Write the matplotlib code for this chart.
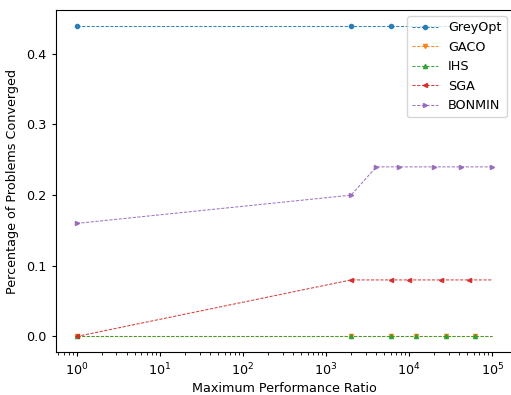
import matplotlib
matplotlib.use("Agg")
import matplotlib.pyplot as plt

names = ["GreyOpt", "GACO", "IHS", "SGA", "BONMIN"]
markers = ["o", "v", "^", "<", ">"]
colors = ["#1f77b4", "#ff7f0e", "#2ca02c", "#d62728", "#9467bd"]

x_grey = [1, 2000, 6100, 100000]
y_grey = [0.44, 0.44, 0.44, 0.44]

x_zero = [1, 2000, 6100, 12200, 28000, 62500, 100000]
y_gaco = [0.0, 0.0, 0.0, 0.0, 0.0, 0.0, 0.0]
y_ihs = [0.0, 0.0, 0.0, 0.0, 0.0, 0.0, 0.0]

x_sga = [1, 2000, 6100, 10000, 24500, 53000, 100000]
y_sga = [0.0, 0.08, 0.08, 0.08, 0.08, 0.08, 0.08]

x_bon = [1, 2000, 4030, 7600, 20000, 42000, 100000]
y_bon = [0.16, 0.20, 0.24, 0.24, 0.24, 0.24, 0.24]

series = [(x_grey, y_grey), (x_zero, y_gaco), (x_zero, y_ihs), (x_sga, y_sga), (x_bon, y_bon)]
mevery = [[0, 1, 2], list(range(6)), list(range(6)), list(range(6)), list(range(7))]

fig = plt.figure(figsize=(5.11, 3.95), dpi=100)
ax = fig.add_axes([56/511, 1 - 352/395, (513-56)/511, (352-10)/395])

for (xs, ys), n, m, c, me in zip(series, names, markers, colors, mevery):
    ax.plot(xs, ys, linestyle=(0, (3, 1.5)), linewidth=0.75, color=c, marker=m,
            markersize=3.0, markevery=me, label=n, alpha=0.9)

ax.set_xscale("log")
ax.set_yticks([0.0, 0.1, 0.2, 0.3, 0.4])
ax.set_xlabel("Maximum Performance Ratio", fontsize=9.2, labelpad=3)
ax.set_ylabel("Percentage of Problems Converged", fontsize=9.2, labelpad=5)
ax.tick_params(labelsize=9.2, length=3.2)
ax.tick_params(which="minor", length=1.8)
ax.legend(loc="upper right", fontsize=9.2)

fig.savefig("out.png", dpi=100)
